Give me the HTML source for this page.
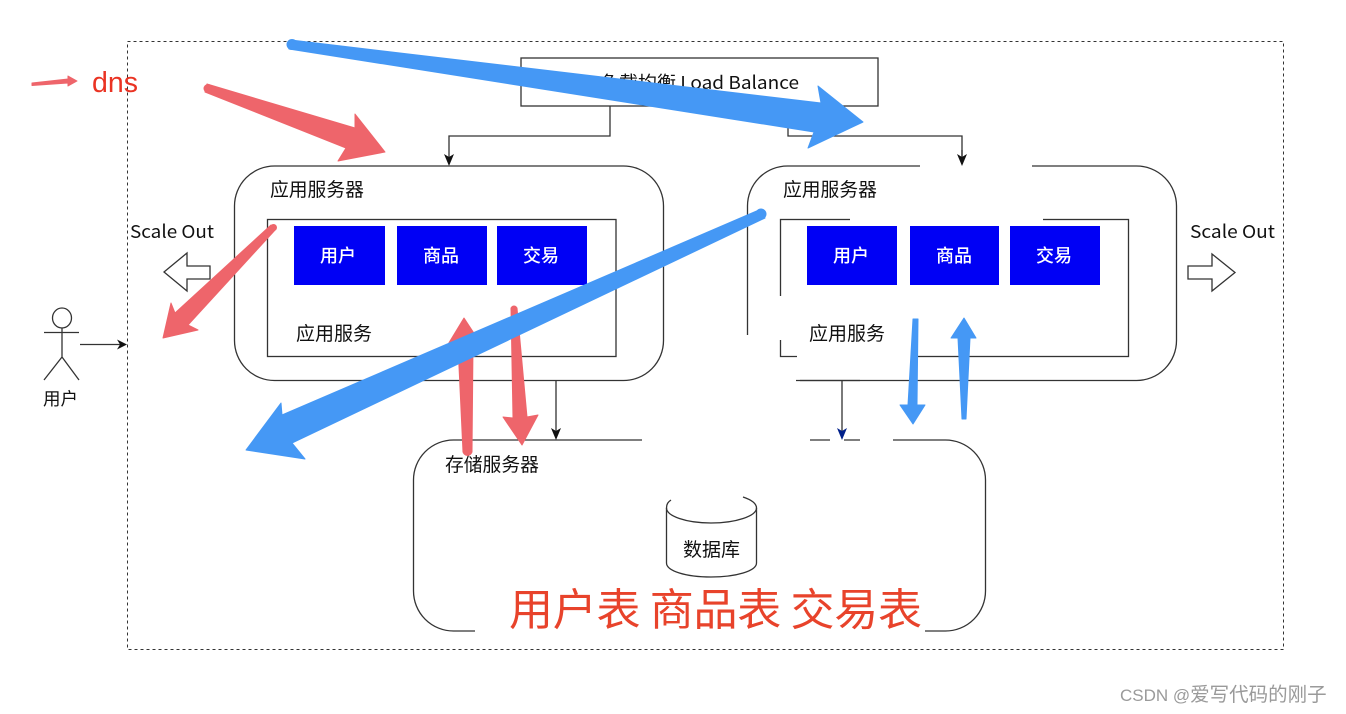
<!DOCTYPE html>
<html>
<head>
<meta charset="utf-8">
<style>
html,body{margin:0;padding:0;background:#fff;width:1346px;height:714px;overflow:hidden}
svg{display:block}
text{font-family:"Noto Sans CJK SC","Liberation Sans",sans-serif;fill:#111}
.l{fill:none;stroke:#333;stroke-width:1.3}
.w{fill:#fff;stroke:none}
.t{fill:#fff;font-size:18px;font-weight:500}
.red{fill:#ee656b;stroke:#ee656b;stroke-width:1;stroke-linejoin:round}
.blue{fill:#4598f5;stroke:#4598f5;stroke-width:1;stroke-linejoin:round}
</style>
</head>
<body>
<svg width="1346" height="714" viewBox="0 0 1346 714" xmlns="http://www.w3.org/2000/svg">
<!-- outer dashed -->
<rect x="127.500" y="41.500" width="1156" height="608" fill="none" stroke="#333" stroke-width="1" stroke-dasharray="3 3"/>

<!-- load balancer -->
<rect x="521" y="58" width="357" height="48" fill="#fff" stroke="#333" stroke-width="1.300"/>
<text x="600" y="89" font-size="18" textLength="199" lengthAdjust="spacingAndGlyphs">负载均衡 Load Balance</text>

<!-- connectors -->
<path class="l" d="M610 106V136H449V160"/>
<path d="M449 166L444 154L449 157L454 154Z" fill="#111"/>
<path class="l" d="M788 106V136H962V160"/>
<path class="l" d="M556 380V434"/>
<path class="l" d="M842 380V434"/>
<path class="l" d="M80 344.500H120"/>
<path d="M127 344.500L117 339.500L120 344.500L117 349.500Z" fill="#111"/>

<!-- app server 1 -->
<rect x="234.500" y="166" width="429" height="214.500" rx="40" class="l"/>
<rect x="267.500" y="219.500" width="348.500" height="137" class="l"/>
<text x="270" y="196" font-size="18.800">应用服务器</text>
<rect x="294" y="226" width="91" height="59" fill="#0000f5"/>
<rect x="397" y="226" width="90" height="59" fill="#0000f5"/>
<rect x="497" y="226" width="90" height="59" fill="#0000f5"/>
<text class="t" x="320" y="262">用户</text>
<text class="t" x="423" y="262">商品</text>
<text class="t" x="523" y="262">交易</text>
<text x="296" y="340" font-size="19">应用服务</text>

<!-- app server 2 -->
<rect x="747.500" y="166" width="429" height="214.500" rx="40" class="l"/>
<rect x="780.500" y="219.500" width="348" height="137" class="l"/>
<rect class="w" x="920" y="160" width="112" height="12"/>
<rect class="w" x="740" y="335" width="60" height="50"/>
<rect class="w" x="800" y="350" width="118" height="12"/>
<rect class="w" x="775" y="296" width="12" height="42"/>
<rect class="w" x="850" y="214" width="193" height="10"/>
<path d="M962 150V160" stroke="#333" stroke-width="1.300"/>
<path d="M962 166L957 154L962 157L967 154Z" fill="#111"/>
<path d="M780.500 340V356.500H797" class="l"/>
<path d="M796 380.500H860" class="l"/>
<text x="783" y="196" font-size="18.800">应用服务器</text>
<rect x="807" y="226" width="90" height="59" fill="#0000f5"/>
<rect x="910" y="226" width="89" height="59" fill="#0000f5"/>
<rect x="1010" y="226" width="90" height="59" fill="#0000f5"/>
<text class="t" x="833" y="262">用户</text>
<text class="t" x="936" y="262">商品</text>
<text class="t" x="1036" y="262">交易</text>
<text x="809" y="340" font-size="19">应用服务</text>

<!-- storage -->
<rect x="413.500" y="440" width="572" height="191" rx="40" fill="#fff" class="l"/>
<rect class="w" x="642" y="435" width="168" height="10"/>
<rect class="w" x="830" y="435" width="14" height="10"/>
<rect class="w" x="860" y="435" width="33" height="10"/>
<rect class="w" x="475" y="626" width="450" height="10"/>
<path d="M842 440L837 428L842 431L847 428Z" fill="#00208a"/>
<path d="M556 440L551 428L556 431L561 428Z" fill="#111"/>
<text x="445" y="471" font-size="18.800">存储服务器</text>

<!-- database -->
<path class="l" d="M666.500 508V563C666.500 571 686 577 711 577C736 577 756.500 571 756.500 563V508"/>
<path class="l" d="M666.500 508C666.500 516 686 523 711 523C736 523 756.500 516 756.500 508C756.500 504 752 500 743 497"/>
<path class="l" d="M666.500 508C666.500 504 668 502 671 500"/>
<text x="683" y="556" font-size="19">数据库</text>

<!-- scale out arrows -->
<text x="130" y="238" font-size="18" textLength="84" lengthAdjust="spacingAndGlyphs">Scale Out</text>
<text x="1190" y="238" font-size="18" textLength="85" lengthAdjust="spacingAndGlyphs">Scale Out</text>
<path class="l" fill="#fff" d="M164 272L187 253V266H210V279H187V291Z"/>
<path class="l" d="M1188 266H1212V254L1235 272.500L1212 291V279H1188Z"/>

<!-- user -->
<ellipse cx="62" cy="318" rx="9.500" ry="10" class="l"/>
<path class="l" d="M44 332.500H79M62 328V357M62 357L44 380M62 357L79 380"/>
<text x="43" y="405" font-size="17.500">用户</text>

<!-- dns legend -->
<polygon class="red" points="32,83 68,79 68,76 77,81 68,86 68,83 32,85.500"/>
<text x="92" y="92" font-size="28.500" style="font-family:'Liberation Sans',sans-serif;fill:#ea3323">dns</text>

<!-- big text -->
<text x="509" y="625" font-size="44" style="fill:#e8432b" textLength="413" lengthAdjust="spacing">用户表 商品表 交易表</text>

<!-- annotation arrows: red -->
<polygon class="red" points="207,84 355,128 355,114 385,152 338,161 346,148 205,92"/>
<circle class="red" cx="208" cy="88.500" r="4"/>
<polygon class="red" points="271,225 276,229 188,325 198,330 163,338 171,303 175,313"/>
<circle class="red" cx="273.500" cy="227.500" r="3"/>
<polygon class="red" points="464,318 483,347 473,345 472,452 463,452 458,345 447,346"/>
<circle class="red" cx="467.500" cy="451" r="4.500"/>
<polygon class="red" points="511,308 517,308 527,417 538,415 522,445 503,417 513,418"/>
<circle class="red" cx="514" cy="309" r="3"/>

<!-- annotation arrows: blue -->
<polygon class="blue" points="291,40 821,103 818,86 863,122 808,148 814,132 289,49 287,44"/>
<circle class="blue" cx="292" cy="44.500" r="5"/>
<polygon class="blue" points="759,210 765,218 292,443 305,459 246,450 281,403 282,415"/>
<circle class="blue" cx="761" cy="214" r="5"/>
<polygon class="blue" points="913,319 918,319 917,405 925,405 913,424 900,405 908,405"/>
<polygon class="blue" points="964,318 976,338 970,338 966,419 962,419 958,338 951,338"/>

<!-- watermark -->
<text x="1120" y="701" style="fill:#9a9a9a"><tspan font-size="17" style="font-family:'Liberation Sans',sans-serif">CSDN @</tspan><tspan font-size="19.500">爱写代码的刚子</tspan></text>
</svg>
</body>
</html>
